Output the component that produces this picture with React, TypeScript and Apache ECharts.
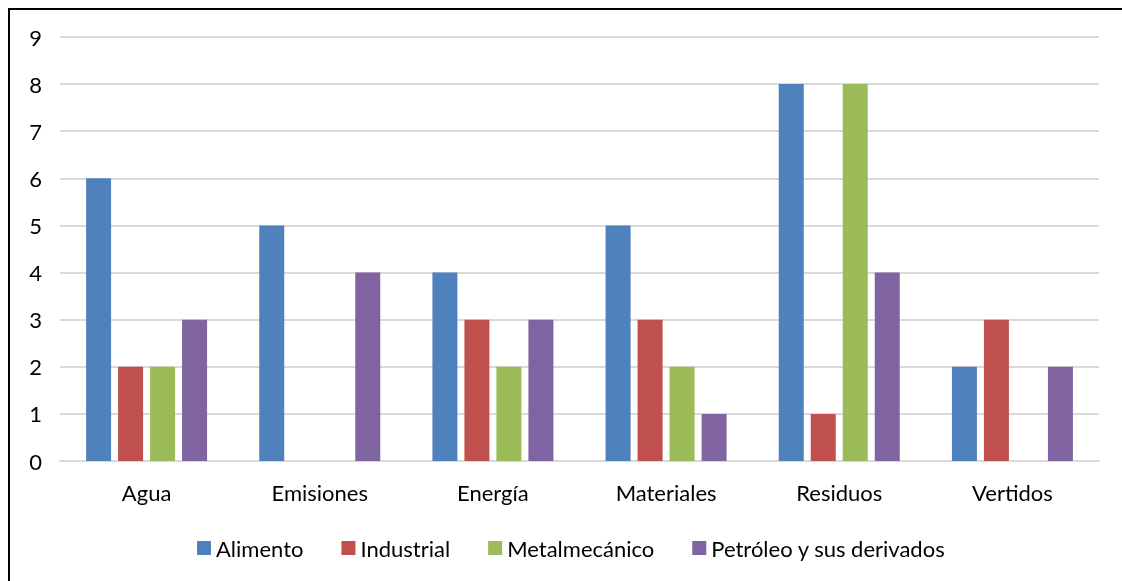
import React, { useEffect, useRef } from "react";
import * as echarts from "echarts";

const categories = ["Agua", "Emisiones", "Energía", "Materiales", "Residuos", "Vertidos"];
const seriesNames = ["Alimento", "Industrial", "Metalmecánico", "Petróleo y sus derivados"];
const alimento = [6, 5, 4, 5, 8, 2];
const industrial = [2, 0, 3, 3, 1, 3];
const metalmecanico = [2, 0, 2, 2, 8, 0];
const petroleo = [3, 4, 3, 1, 4, 2];
const colors = ["#4F81BD", "#C0504D", "#9BBB59", "#8064A2"];

const FONT = "Lato";

export default function App() {
  const ref = useRef<HTMLDivElement>(null);

  useEffect(() => {
    if (!ref.current) return;
    const chart = echarts.init(ref.current, undefined, { renderer: "svg" });
    const values = [alimento, industrial, metalmecanico, petroleo];
    chart.setOption({
      animation: false,
      color: colors,
      textStyle: { fontFamily: FONT },
      grid: { left: 50, right: 23, top: 27, bottom: 120 },
      legend: {
        bottom: 17,
        left: 182,
        itemWidth: 14,
        itemHeight: 14,
        itemGap: 38,
        icon: "rect",
        textStyle: { fontFamily: FONT, fontSize: 22, color: "#000" },
        data: seriesNames,
      },
      xAxis: {
        type: "category",
        data: categories,
        axisLine: { show: true, lineStyle: { color: "#d9d9d9", width: 2 } },
        axisTick: { show: false },
        axisLabel: { fontFamily: FONT, fontSize: 22, color: "#000", margin: 20 },
      },
      yAxis: {
        type: "value",
        min: 0,
        max: 9,
        interval: 1,
        axisLine: { show: false },
        axisTick: { show: false },
        splitLine: { lineStyle: { color: "#d9d9d9", width: 2 } },
        axisLabel: { fontFamily: FONT, fontSize: 22, color: "#000", margin: 18 },
      },
      series: seriesNames.map((name, i) => ({
        name,
        type: "bar",
        data: values[i],
        barWidth: 25,
        barGap: "28%",
        itemStyle: { color: colors[i] },
      })),
    });
    return () => chart.dispose();
  }, []);

  // Frame with only its top and left edges inside the page; fixed so it adds no scroll area.
  return (
    <div
      style={{
        position: "fixed",
        left: 8,
        top: 8,
        width: 1112,
        height: 571,
        borderTop: "2px solid #000",
        borderLeft: "2px solid #000",
        overflow: "hidden",
      }}
    >
      <div ref={ref} style={{ width: 1112, height: 571 }} />
    </div>
  );
}
